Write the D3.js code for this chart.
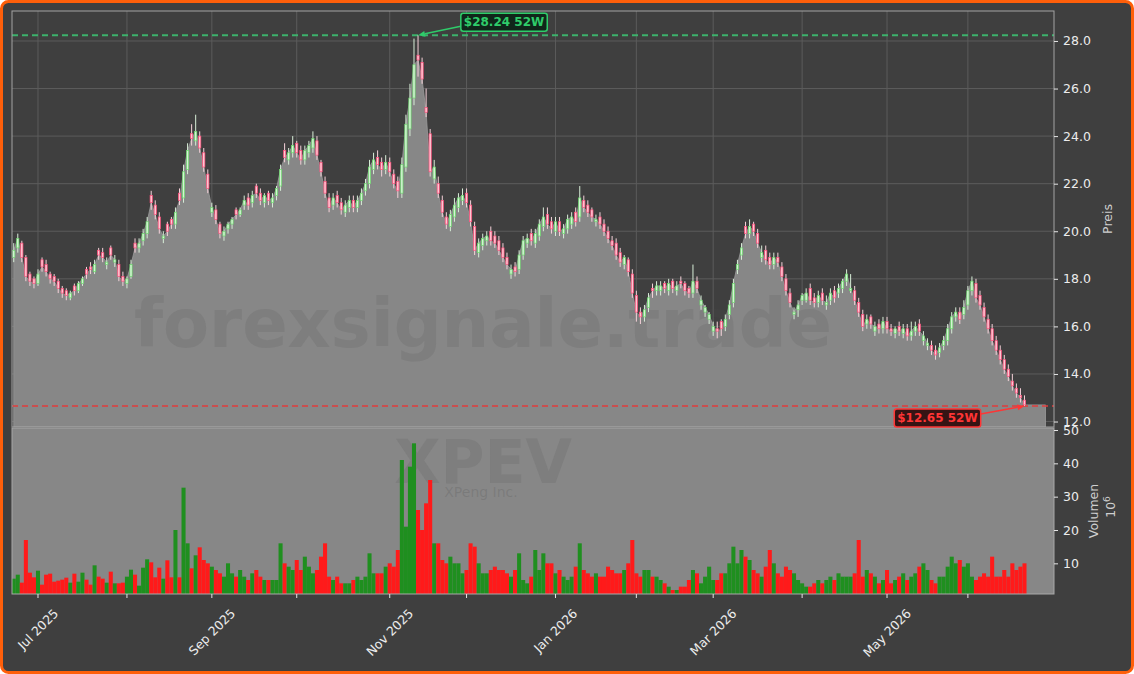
<!DOCTYPE html>
<html>
<head>
<meta charset="utf-8">
<script src="https://cdn.jsdelivr.net/npm/d3@7/dist/d3.min.js"></script>
<style>
  html, body { margin: 0; padding: 0; background: #ffffff; }
  svg { display: block; font-family: "DejaVu Sans", sans-serif; }
</style>
</head>
<body>
<svg id="chart" width="1134" height="674"></svg>
<script>
// ---- data (one entry per trading day, Jun 23 2025 .. Jun 22 2026) ----
var closes = [
  19.2,19.7,18.9,18.1,17.9,17.8,18.2,18.5,18.3,18.0,
  17.9,17.6,17.4,17.3,17.4,17.5,17.8,18.0,18.2,18.4,
  18.6,19.0,18.9,18.7,19.0,18.8,18.1,17.9,18.0,18.6,
  19.3,19.5,19.9,20.4,21.2,20.7,20.1,19.8,20.0,20.3,
  20.8,21.3,22.5,23.4,23.9,24.2,23.5,22.7,21.8,21.0,
  20.5,19.9,20.0,20.3,20.5,20.7,20.9,21.3,21.1,21.5,
  21.6,21.3,21.5,21.3,21.4,21.8,22.6,23.1,23.3,23.6,
  23.3,23.0,23.4,23.6,23.9,23.2,22.5,21.6,21.0,21.4,
  21.2,20.9,21.1,21.3,21.0,21.3,21.6,22.0,22.7,23.0,
  22.8,22.6,22.9,22.5,22.0,21.7,22.8,24.5,25.6,27.0,
  27.2,26.4,25.0,22.5,22.7,21.6,20.8,20.3,20.7,21.1,
  21.4,21.5,21.2,20.4,19.2,19.5,19.7,19.8,19.6,19.5,
  19.2,18.9,18.6,18.4,18.3,19.0,19.6,19.7,19.6,19.9,
  20.3,20.6,20.3,20.1,20.4,20.0,20.1,20.5,20.6,20.4,
  21.4,21.0,20.8,20.6,20.5,20.3,20.0,19.7,19.4,19.0,
  18.7,18.9,18.3,17.4,16.6,16.4,16.7,17.2,17.5,17.7,
  17.7,17.6,17.8,17.6,17.7,17.8,17.5,17.4,17.9,17.6,
  17.1,16.8,16.5,16.0,15.8,15.9,16.3,16.9,17.8,18.6,
  19.3,19.9,20.2,20.0,19.5,19.1,18.8,18.6,18.9,18.7,
  18.1,17.5,17.0,16.6,16.9,17.3,17.4,17.1,17.0,17.3,
  17.1,17.0,17.4,17.2,17.6,17.9,18.2,17.6,17.1,16.6,
  16.0,16.3,16.1,16.0,15.9,16.2,15.9,15.8,15.9,15.8,
  15.9,15.6,15.8,16.0,15.8,15.6,15.3,15.0,14.8,15.1,
  15.4,15.9,16.4,16.6,16.3,16.8,17.5,17.9,17.2,16.9,
  16.4,15.9,15.4,15.0,14.6,14.2,13.9,13.5,13.2,13.0,
  12.7
];
var opens = [
  18.9,19.3,19.5,18.9,18.2,18.0,17.8,18.8,18.6,18.2,
  18.1,17.9,17.6,17.5,17.2,17.7,17.5,17.8,18.4,18.5,
  18.3,19.2,19.1,18.6,19.3,18.7,18.6,18.1,17.8,18.1,
  19.5,19.3,19.6,19.9,21.5,21.1,20.6,19.7,20.3,20.5,
  20.3,21.6,21.4,22.6,24.1,23.8,24.0,23.3,22.4,20.8,
  20.9,20.3,19.8,20.1,20.3,20.9,20.7,21.1,21.4,21.2,
  21.9,21.6,21.2,21.6,21.2,21.5,21.9,23.4,23.0,23.3,
  23.7,23.4,23.0,23.3,23.5,23.8,22.9,22.1,21.4,21.1,
  21.5,21.2,20.8,21.0,21.3,21.0,21.3,21.7,22.0,22.6,
  23.1,22.9,22.6,22.9,22.4,22.1,21.6,22.7,24.3,25.6,
  27.4,27.1,25.2,24.1,22.2,22.0,21.3,20.6,20.2,20.6,
  21.0,21.3,21.6,21.1,20.2,19.1,19.4,19.6,20.0,19.8,
  19.6,19.3,18.9,18.2,18.5,18.4,19.0,19.5,19.9,19.5,
  19.8,20.2,20.7,20.4,20.0,20.4,19.9,20.1,20.3,20.8,
  20.6,21.3,21.1,20.9,20.4,20.6,20.3,20.0,19.6,19.5,
  19.1,18.6,18.8,18.2,17.3,16.6,16.4,16.8,17.6,17.5,
  17.5,17.8,17.5,17.9,17.5,17.9,17.8,17.6,17.4,17.9,
  16.9,16.6,16.3,15.8,15.9,16.2,16.0,16.5,17.0,18.4,
  19.0,20.2,19.9,20.3,19.9,18.9,19.2,18.9,18.6,18.9,
  18.5,18.0,17.4,16.5,16.7,17.1,17.1,17.6,17.2,17.0,
  17.4,16.9,17.1,17.5,17.4,17.6,17.9,17.5,17.5,17.0,
  16.5,16.1,16.4,15.8,16.1,15.9,16.2,15.9,15.7,16.0,
  15.7,15.9,15.6,15.8,16.1,15.4,15.2,15.2,15.0,14.9,
  15.2,15.4,15.9,16.4,16.6,16.5,16.9,17.5,17.8,17.3,
  16.8,16.3,15.9,15.4,15.0,14.6,14.2,13.7,13.4,13.1,
  12.9
];
var highs = [
  19.5,19.9,19.6,19.0,18.3,18.1,18.4,18.9,18.8,18.3,
  18.2,18.0,17.7,17.6,17.5,17.8,17.9,18.1,18.5,18.7,
  18.8,19.3,19.3,18.9,19.4,19.0,18.8,18.3,18.1,18.8,
  19.7,19.7,20.1,20.6,21.7,21.3,20.8,20.0,20.4,20.6,
  21.0,21.8,22.8,23.7,24.5,24.9,24.2,23.5,22.6,21.2,
  21.1,20.4,20.2,20.4,20.6,21.0,21.0,21.5,21.6,21.7,
  22.0,21.8,21.6,21.7,21.6,21.9,22.8,23.7,23.5,24.0,
  23.8,23.6,23.6,23.8,24.2,24.0,23.0,22.3,21.6,21.6,
  21.7,21.4,21.3,21.5,21.5,21.5,21.8,22.2,23.0,23.3,
  23.4,23.1,23.2,23.1,22.6,22.3,23.1,24.9,26.2,28.1,
  28.24,27.3,26.0,24.3,23.0,22.3,21.5,20.8,20.9,21.4,
  21.6,21.8,21.8,21.3,20.4,19.7,19.9,20.0,20.2,20.0,
  19.8,19.5,19.1,18.6,18.7,19.2,19.8,19.9,20.1,20.1,
  20.5,21.0,21.0,20.6,20.6,20.6,20.3,20.7,20.8,21.0,
  21.9,21.5,21.3,21.0,20.7,20.8,20.5,20.2,19.8,19.7,
  19.3,19.0,18.9,18.4,17.5,16.8,16.9,17.4,17.8,17.9,
  17.9,17.9,18.0,18.0,17.9,18.1,17.9,17.7,18.6,18.1,
  17.3,16.9,16.6,16.2,16.2,16.3,16.5,17.1,18.0,18.8,
  19.5,20.4,20.5,20.4,20.1,19.4,19.4,19.1,19.1,19.1,
  18.7,18.2,17.6,16.8,17.1,17.4,17.6,17.8,17.4,17.5,
  17.6,17.3,17.6,17.7,17.8,18.0,18.4,18.2,17.7,17.2,
  16.7,16.5,16.5,16.2,16.3,16.4,16.4,16.1,16.0,16.2,
  16.1,16.1,16.2,16.2,16.3,15.8,15.5,15.4,15.2,15.3,
  15.6,16.1,16.6,16.8,16.8,17.1,17.7,18.1,18.0,17.5,
  17.0,16.5,16.1,15.6,15.2,14.8,14.4,14.0,13.6,13.4,
  13.1
];
var lows = [
  18.7,19.1,18.7,17.9,17.7,17.6,17.7,18.3,18.1,17.8,
  17.7,17.4,17.2,17.1,17.1,17.3,17.4,17.7,18.0,18.2,
  18.2,18.8,18.7,18.4,18.8,18.5,17.9,17.7,17.6,18.0,
  19.1,19.1,19.4,19.7,20.9,20.5,19.9,19.5,19.8,20.1,
  20.1,21.1,21.2,22.4,23.6,23.6,23.3,22.5,21.6,20.6,
  20.3,19.7,19.6,19.9,20.1,20.5,20.6,20.9,20.9,21.0,
  21.4,21.1,21.0,21.1,21.0,21.3,21.7,22.9,22.8,23.1,
  23.1,22.8,22.8,23.1,23.3,23.0,22.3,21.4,20.8,20.9,
  21.0,20.7,20.6,20.8,20.8,20.8,21.1,21.5,21.8,22.4,
  22.6,22.3,22.4,22.3,21.8,21.4,21.4,22.5,24.0,25.3,
  26.5,26.2,24.8,22.3,22.0,21.4,20.6,20.1,20.0,20.4,
  20.8,21.1,21.0,20.2,19.0,18.9,19.2,19.4,19.4,19.3,
  19.0,18.7,18.4,18.0,18.1,18.2,18.8,19.3,19.4,19.3,
  19.6,20.0,20.1,19.9,19.8,19.8,19.7,19.9,20.1,20.2,
  20.4,20.8,20.6,20.4,20.2,20.1,19.8,19.5,19.2,18.8,
  18.5,18.4,18.1,17.2,16.2,16.1,16.2,16.6,17.2,17.3,
  17.3,17.4,17.3,17.4,17.3,17.6,17.3,17.2,17.2,17.4,
  16.7,16.4,16.1,15.6,15.5,15.6,15.8,16.3,16.8,18.2,
  18.8,19.7,19.7,19.8,19.3,18.7,18.6,18.4,18.4,18.5,
  17.9,17.3,16.8,16.3,16.4,16.9,17.0,16.9,16.8,16.8,
  16.9,16.7,16.9,17.0,17.2,17.4,17.7,17.4,16.9,16.4,
  15.8,15.9,15.9,15.6,15.7,15.7,15.7,15.6,15.5,15.6,
  15.5,15.4,15.4,15.6,15.6,15.2,15.0,14.8,14.6,14.7,
  15.0,15.2,15.7,16.2,16.1,16.3,16.7,17.3,17.0,16.7,
  16.2,15.7,15.2,14.8,14.4,14.0,13.7,13.3,13.0,12.8,
  12.65
];
// volume in millions
var volumes = [
  5.4,6.6,4.2,17,7.2,5.8,7.8,3.6,6.6,6.9,
  4.5,4.8,5.1,5.7,4.2,6.9,4.5,7.2,5.1,3.6,
  9.4,6,5.4,4.2,7.5,4,4,4.2,6,8.1,
  6.6,3.3,8.7,11.2,10.3,5.8,8.7,5.4,10.9,5.8,
  20,5.8,32.7,16,8.5,12.4,14.8,11,10,9,
  8,7,6,10,7,6,8,6,5,7,
  8,6,5,5,5,5,16,10,9,8,
  11,8,12,9,7,8,12,16,6,5,
  6,4,4,4,5,6,5,6,13,7,
  7,7,9,10,9,14,41,21,39,46,
  26,20,28,35,16,16,11,10,12,10,
  10,7,8,16,15,10,7,7,8,9,
  8,8,7,6,8,13,5,4,6,14,
  8,13,10,10,7,8,6,5,6,9,
  16,8,7,6,7,6,6,9,8,7,
  7,8,10,17,7,6,8,8,6,6,
  5,4,3,2,2,3,3,5,8,7,
  4,6,9,5,5,7,7,10,15,10,
  14,12,11,8,7,6,9,14,10,7,
  6,9,8,7,5,4,3,3,4,5,
  4,5,6,5,7,6,6,6,7,17,
  6,8,7,6,4,5,8,4,5,6,
  7,5,6,7,9,10,8,5,4,6,
  6,9,12,10,11,9,10,6,5,6,
  7,6,12,6,6,8,6,10,8,9,
  10
];
// first trading day of each month (index into the arrays above)
var monthIdx = [6, 28, 49, 70, 93, 112, 134, 154, 173, 195, 216, 236];
var monthLabels = ["Jul 2025", "", "Sep 2025", "", "Nov 2025", "", "Jan 2026", "", "Mar 2026", "", "May 2026", ""];
var priceTicks = [12, 14, 16, 18, 20, 22, 24, 26, 28];
var volumeTicks = [10, 20, 30, 40, 50];
var high52 = 28.24, high52Idx = 100;
var low52 = 12.65, low52Idx = 250;

// ---- layout ----
var W = 1134, H = 674;
var left = 12, right = 1054;
var pTop = 11, pBot = 427, vTop = 428, vBot = 594;
var bg = "#3f3f3f", fillGray = "#878787";

var svg = d3.select("#chart");

svg.append("rect")
    .attr("x", 1.5).attr("y", 1.5)
    .attr("width", W - 3).attr("height", H - 3)
    .attr("rx", 7)
    .attr("fill", bg)
    .attr("stroke", "#ff5f0a")
    .attr("stroke-width", 3);

var x = d3.scaleLinear().domain([-0.43, 257.3]).range([left, right]);
var y = d3.scaleLinear().domain([11.77, 29.26]).range([pBot, pTop]);
var yv = d3.scaleLinear().domain([0.8, 50.6]).range([vBot, vTop]);
var step = x(1) - x(0);

var defs = svg.append("defs");
defs.append("clipPath").attr("id", "clipP").append("rect")
    .attr("x", left).attr("y", pTop).attr("width", right - left).attr("height", pBot - pTop);
defs.append("clipPath").attr("id", "clipV").append("rect")
    .attr("x", left).attr("y", vTop).attr("width", right - left).attr("height", vBot - vTop);

// ---- price panel ----
var gp = svg.append("g");

// grid
gp.selectAll(".hgrid").data(priceTicks).enter().append("line")
    .attr("x1", left).attr("x2", right)
    .attr("y1", function (d) { return y(d); }).attr("y2", function (d) { return y(d); })
    .attr("stroke", "#5c5c5c").attr("stroke-width", 1);
gp.selectAll(".vgrid").data(monthIdx).enter().append("line")
    .attr("x1", function (d) { return x(d); }).attr("x2", function (d) { return x(d); })
    .attr("y1", pTop).attr("y2", pBot)
    .attr("stroke", "#5c5c5c").attr("stroke-width", 1);

var pc = gp.append("g").attr("clip-path", "url(#clipP)");

// area under close, carried flat a few bars past the end
var fillPts = closes.map(function (c, i) { return [i, c]; });
fillPts.push([closes.length - 1 + 5.2, closes[closes.length - 1]]);
var area = d3.area()
    .x(function (d) { return x(d[0]); })
    .y0(pBot)
    .y1(function (d) { return y(d[1]); });
pc.append("path").datum(fillPts)
    .attr("d", area)
    .attr("fill", fillGray)
    .attr("stroke", "#9a9a9a")
    .attr("stroke-width", 0.8);

// watermark
pc.append("text")
    .attr("x", 483).attr("y", 347)
    .attr("text-anchor", "middle")
    .attr("font-size", 67).attr("font-weight", "bold")
    .attr("fill", "#505050").attr("fill-opacity", 0.16)
    .text("forexsignale.trade");

// dashed 52W lines
pc.append("line")
    .attr("x1", left).attr("x2", right)
    .attr("y1", y(high52)).attr("y2", y(high52))
    .attr("stroke", "#3cb36c").attr("stroke-width", 1.8)
    .attr("stroke-dasharray", "6,4");
pc.append("line")
    .attr("x1", left).attr("x2", right)
    .attr("y1", y(low52)).attr("y2", y(low52))
    .attr("stroke", "#e03c3c").attr("stroke-width", 1.6)
    .attr("stroke-dasharray", "6,4");

// candles
var bodyW = step * 0.55;
closes.forEach(function (c, i) {
    var o = opens[i], up = c >= o;
    pc.append("line")
        .attr("x1", x(i)).attr("x2", x(i))
        .attr("y1", y(highs[i])).attr("y2", y(lows[i]))
        .attr("stroke", up ? "#d8eed8" : "#f6d2da")
        .attr("stroke-width", 1);
    var top = y(Math.max(o, c)), bot = y(Math.min(o, c));
    pc.append("rect")
        .attr("x", x(i) - bodyW / 2).attr("y", top)
        .attr("width", bodyW).attr("height", Math.max(bot - top, 1))
        .attr("fill", up ? "#d4f4d4" : "#ffc6d2")
        .attr("stroke", up ? "#6ad66a" : "#ff4d7a")
        .attr("stroke-width", 0.7);
});

// spine
gp.append("rect")
    .attr("x", left).attr("y", pTop)
    .attr("width", right - left).attr("height", pBot - pTop)
    .attr("fill", "none").attr("stroke", "#a4a4a4").attr("stroke-width", 1);

// price axis
var yAxis = d3.axisRight(y).tickValues(priceTicks).tickFormat(d3.format(".1f")).tickSize(4).tickPadding(5);
var ya = svg.append("g").attr("transform", "translate(" + right + ",0)").call(yAxis);
ya.select(".domain").remove();
ya.selectAll("line").attr("stroke", "#e6e6e6");
ya.selectAll("text").attr("fill", "#ececec").attr("font-size", 12.5).attr("font-family", "DejaVu Sans");

svg.append("text")
    .attr("transform", "translate(1112," + ((pTop + pBot) / 2) + ") rotate(-90)")
    .attr("text-anchor", "middle")
    .attr("font-size", 12.5)
    .attr("fill", "#cfcfcf")
    .text("Preis");

// ---- volume panel ----
var gv = svg.append("g");
gv.append("rect")
    .attr("x", left).attr("y", vTop)
    .attr("width", right - left).attr("height", vBot - vTop)
    .attr("fill", fillGray);

var vc = gv.append("g").attr("clip-path", "url(#clipV)");
vc.append("text")
    .attr("x", 483).attr("y", 483)
    .attr("text-anchor", "middle")
    .attr("font-size", 60).attr("font-weight", "bold")
    .attr("fill", "#505050").attr("fill-opacity", 0.16)
    .text("XPEV");
vc.append("text")
    .attr("x", 481).attr("y", 497)
    .attr("text-anchor", "middle")
    .attr("font-size", 14)
    .attr("fill", "#505050").attr("fill-opacity", 0.22)
    .text("XPeng Inc.");

vc.selectAll(".vbar").data(volumes).enter().append("rect")
    .attr("x", function (d, i) { return x(i) - step / 2; })
    .attr("width", step)
    .attr("y", function (d) { return yv(d); })
    .attr("height", function (d) { return vBot - yv(d) + 2; })
    .attr("fill", function (d, i) { return closes[i] >= opens[i] ? "#1f8f1f" : "#ff1a1a"; });

gv.append("rect")
    .attr("x", left).attr("y", vTop)
    .attr("width", right - left).attr("height", vBot - vTop)
    .attr("fill", "none").attr("stroke", "#a8a8a8").attr("stroke-width", 1);

var vAxis = d3.axisRight(yv).tickValues(volumeTicks).tickFormat(d3.format("d")).tickSize(4).tickPadding(5);
var va = svg.append("g").attr("transform", "translate(" + right + ",0)").call(vAxis);
va.select(".domain").remove();
va.selectAll("line").attr("stroke", "#e6e6e6");
va.selectAll("text").attr("fill", "#ececec").attr("font-size", 12.5).attr("font-family", "DejaVu Sans");

var vmid = (vTop + vBot) / 2;
svg.append("text")
    .attr("transform", "translate(1098," + vmid + ") rotate(-90)")
    .attr("text-anchor", "middle")
    .attr("font-size", 12.5).attr("fill", "#cfcfcf")
    .text("Volumen");
var tenSix = svg.append("text")
    .attr("transform", "translate(1115," + (vmid - 4) + ") rotate(-90)")
    .attr("text-anchor", "middle")
    .attr("font-size", 12.5).attr("fill", "#cfcfcf");
tenSix.append("tspan").text("10");
tenSix.append("tspan").attr("dy", -5).attr("font-size", 9).text("6");

// ---- x axis (trading-day index) ----
var gx = svg.append("g");
monthIdx.forEach(function (m, k) {
    gx.append("line")
        .attr("x1", x(m)).attr("x2", x(m))
        .attr("y1", vBot).attr("y2", vBot + 4)
        .attr("stroke", "#e6e6e6");
    if (!monthLabels[k]) return;
    var t = gx.append("text")
        .attr("text-anchor", "middle")
        .attr("dominant-baseline", "central")
        .attr("font-size", 12.5)
        .attr("fill", "#ececec")
        .text(monthLabels[k]);
    var w = t.node().getComputedTextLength();
    var h = 12.5 * 1.15;
    var cy = vBot + 12 + (w + h) * Math.SQRT1_2 / 2;
    t.attr("transform", "translate(" + x(m) + "," + cy + ") rotate(-45)");
});

// ---- 52W annotations ----
function note(idx, val, dx, dy, label, col, boxFill) {
    var tx = x(idx), ty = y(val);
    var cx = tx + dx, cyy = ty + dy;
    var g = svg.append("g");
    var t = g.append("text")
        .attr("x", cx).attr("y", cyy)
        .attr("text-anchor", "middle").attr("dominant-baseline", "central")
        .attr("font-size", 12).attr("font-weight", "bold")
        .attr("fill", col).text(label);
    var bb = t.node().getBBox();
    var bx = bb.x - 3, bw = bb.width + 6, by = cyy - 9, bh = 18;
    g.insert("rect", "text")
        .attr("x", bx).attr("y", by).attr("width", bw).attr("height", bh)
        .attr("rx", 2.5)
        .attr("fill", boxFill).attr("stroke", col).attr("stroke-width", 1.5);
    // arrow from box edge to the point
    var sx = dx > 0 ? bx : bx + bw;
    var sy = cyy + (dy < 0 ? 4 : -4);
    var ang = Math.atan2(ty - sy, tx - sx);
    var hl = 7, hw = 3;
    var ex = tx - Math.cos(ang) * hl, ey = ty - Math.sin(ang) * hl;
    g.append("line")
        .attr("x1", sx).attr("y1", sy).attr("x2", ex).attr("y2", ey)
        .attr("stroke", col).attr("stroke-width", 1.6);
    var px = -Math.sin(ang) * hw, py = Math.cos(ang) * hw;
    g.append("path")
        .attr("d", "M" + tx + "," + ty + "L" + (ex + px) + "," + (ey + py) + "L" + (ex - px) + "," + (ey - py) + "Z")
        .attr("fill", col);
}
note(high52Idx, high52, 86, -13, "$28.24 52W", "#2fcc6a", "#10261a");
note(low52Idx, low52, -87, 12, "$12.65 52W", "#ff3535", "#361414");
</script>
</body>
</html>
